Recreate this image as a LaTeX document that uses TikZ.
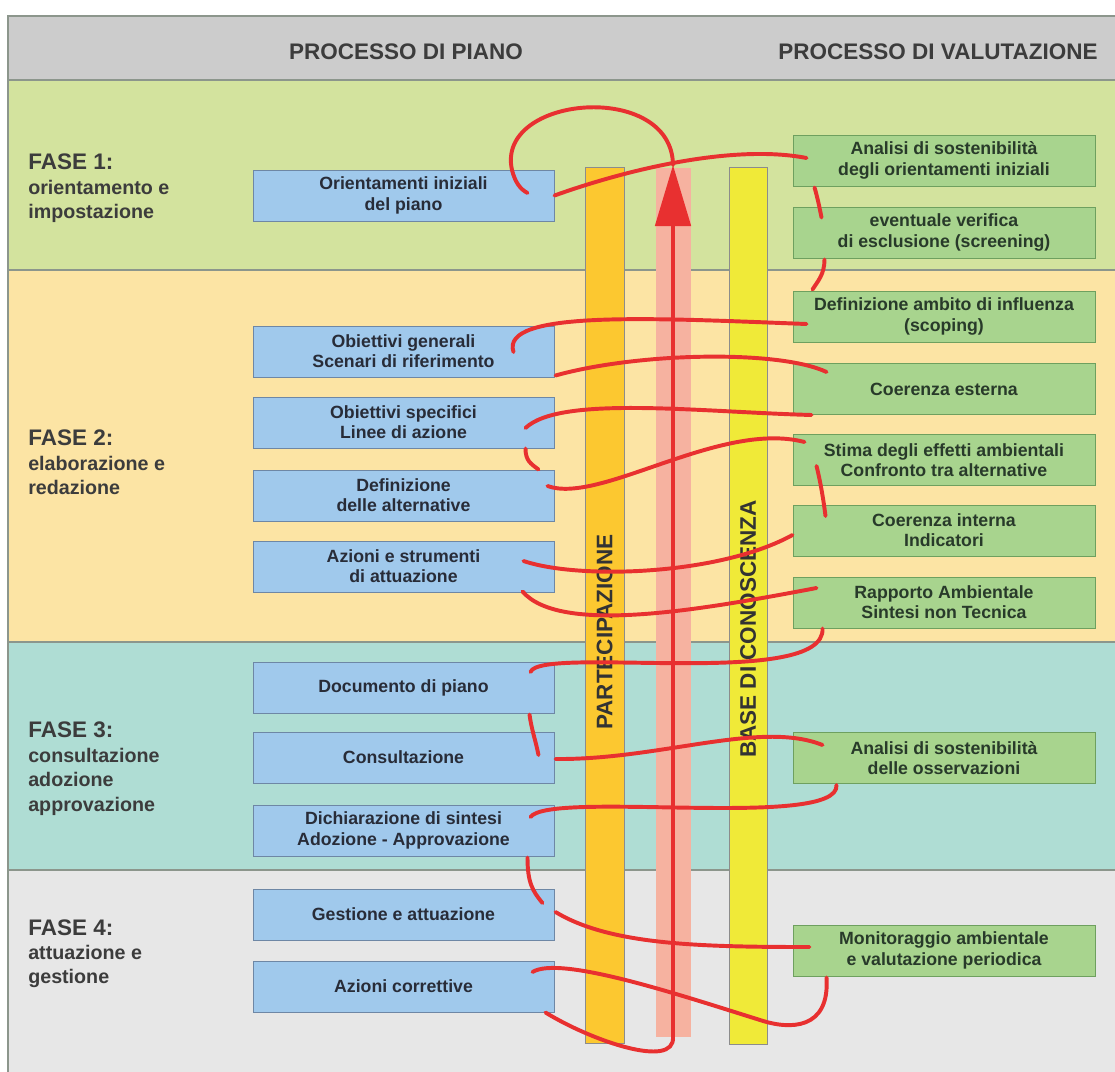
\documentclass[tikz,border=0pt]{standalone}
\usepackage{fontspec}
\setmainfont{Liberation Sans}
\usepackage{tikz}
\usetikzlibrary{arrows.meta,calc}
\definecolor{headgray}{RGB}{204,204,204}
\definecolor{fase1}{RGB}{211,227,158}
\definecolor{fase2}{RGB}{252,228,164}
\definecolor{fase3}{RGB}{175,221,212}
\definecolor{fase4}{RGB}{231,231,231}
\definecolor{sepline}{RGB}{140,150,140}
\definecolor{planblue}{RGB}{160,201,236}
\definecolor{planborder}{RGB}{110,135,165}
\definecolor{plantext}{RGB}{40,44,56}
\definecolor{valgreen}{RGB}{168,212,142}
\definecolor{valborder}{RGB}{110,160,95}
\definecolor{valtext}{RGB}{40,58,42}
\definecolor{partorange}{RGB}{252,200,48}
\definecolor{basyellow}{RGB}{240,234,56}
\definecolor{arrowpink}{RGB}{246,178,160}
\definecolor{linkred}{RGB}{232,48,48}
\definecolor{inktext}{RGB}{60,60,60}

\begin{document}
\begin{tikzpicture}
[x=0.25mm, y=-0.25mm,
 phaseband/.style={draw=sepline,line width=0.9pt},
 plan/.style={rectangle,draw=planborder,fill=planblue,line width=0.7pt,inner sep=0pt,
   minimum width=75.25mm,minimum height=12.75mm,align=center,text=plantext,
   font=\bfseries\fontsize{12.6}{14.4}\selectfont},
 valut/.style={rectangle,draw=valborder,fill=valgreen,line width=0.7pt,inner sep=0pt,
   minimum width=75.5mm,minimum height=12.75mm,align=center,text=valtext,
   font=\bfseries\fontsize{12.6}{14.4}\selectfont},
 phase/.style={anchor=north west,inner sep=0pt,align=left,text=inktext,
   font=\bfseries\fontsize{14}{17.4}\selectfont},
 headtext/.style={text=inktext,font=\bfseries\fontsize{16}{18}\selectfont},
 stripe/.style={draw=black!45,line width=0.5pt},
 stripetext/.style={rotate=90,text=black!80,font=\bfseries\fontsize{16}{18}\selectfont},
 link/.style={draw=linkred,line width=2.8pt,line cap=round}]
\useasboundingbox (0,0) rectangle (1115,1071);
\fill[white] (0,0) rectangle (1115,1071);

\filldraw[phaseband,fill=headgray] (8,16) rectangle (1120,80);
\filldraw[phaseband,fill=fase1] (8,80) rectangle (1120,270);
\filldraw[phaseband,fill=fase2] (8,270) rectangle (1120,642);
\filldraw[phaseband,fill=fase3] (8,642) rectangle (1120,870);
\filldraw[phaseband,fill=fase4] (8,870) rectangle (1120,1080);

\node[headtext] (hpiano) at (406,52) {PROCESSO DI PIANO};
\node[headtext] (hvalut) at (938,52) {PROCESSO DI VALUTAZIONE};

\node[phase] (fase1) at (28,154) {{\fontsize{16}{17.4}\selectfont FASE 1:}\\orientamento e\\impostazione};
\node[phase] (fase2) at (28,430) {{\fontsize{16}{17.4}\selectfont FASE 2:}\\elaborazione e\\redazione};
\node[phase] (fase3) at (28,722) {{\fontsize{16}{17.4}\selectfont FASE 3:}\\consultazione\\adozione\\approvazione};
\node[phase] (fase4) at (28,919) {{\fontsize{16}{17.4}\selectfont FASE 4:}\\attuazione e\\gestione};

\filldraw[stripe,fill=partorange] (585,167) rectangle (624,1043);
\fill[arrowpink] (656,168) rectangle (691,1037);
\filldraw[stripe,fill=basyellow] (729,167) rectangle (767,1044);
\node[stripetext] (partec) at (604.5,632) {PARTECIPAZIONE};
\node[stripetext] (base) at (748,629) {BASE DI CONOSCENZA};

\node[plan] (orient)   at (403.5,195.5) {Orientamenti iniziali\\del piano};
\node[plan] (obgen)    at (403.5,351.5) {Obiettivi generali\\Scenari di riferimento};
\node[plan] (obspec)   at (403.5,422.5) {Obiettivi specifici\\Linee di azione};
\node[plan] (altern)   at (403.5,495.5) {Definizione\\delle alternative};
\node[plan] (azioni)   at (403.5,566.5) {Azioni e strumenti\\di attuazione};
\node[plan] (docum)    at (403.5,687.5) {Documento di piano};
\node[plan] (consult)  at (403.5,757.5) {Consultazione};
\node[plan] (dichiar)  at (403.5,830.5) {Dichiarazione di sintesi\\Adozione - Approvazione};
\node[plan] (gestione) at (403.5,914.5) {Gestione e attuazione};
\node[plan] (corrett)  at (403.5,986.5) {Azioni correttive};

\node[valut] (ansost)   at (944,160.5) {Analisi di sostenibilità\\degli orientamenti iniziali};
\node[valut] (screen)   at (944,232.5) {eventuale verifica\\di esclusione (screening)};
\node[valut] (scoping)  at (944,316.5) {Definizione ambito di influenza\\(scoping)};
\node[valut] (coerest)  at (944,389)   {Coerenza esterna};
\node[valut] (stima)    at (944,460)   {Stima degli effetti ambientali\\Confronto tra alternative};
\node[valut] (coerint)  at (944,530.5) {Coerenza interna\\Indicatori};
\node[valut] (rapporto) at (944,602.5) {Rapporto Ambientale\\Sintesi non Tecnica};
\node[valut] (ansoss)   at (944,758)   {Analisi di sostenibilità\\delle osservazioni};
\node[valut] (monit)    at (944,950.5) {Monitoraggio ambientale\\e valutazione periodica};

\coordinate (tip)  at (673,165);
\coordinate (foot) at (673,1037);

\draw[link]
  (tip) .. controls (672,80) and (495,95) .. (512,170) .. controls (515,182) and (520,189) .. ($(orient.east)+(-27,-2.5)$)
  (orient.east) .. controls (640,165) and (740,145) .. ($(ansost.west)+(14,-2.5)$)
  ($(ansost.south west)+(22,1)$) .. controls +(3,10) and +(-2,-10) .. ($(screen.north west)+(29,11)$)
  ($(screen.south west)+(32,1)$) .. controls +(0,15) and +(5,-8) .. ($(scoping.north west)+(20,-1)$)
  ($(scoping.west)+(14,7.5)$) .. controls (650,318) and (500,310) .. ($(obgen.east)+(-41,0.5)$)
  ($(obgen.south east)+(1,-2)$) .. controls (640,352) and (780,350) .. ($(coerest.west)+(34,-17)$)
  ($(coerest.south west)+(19,0)$) .. controls (700,412) and (560,395) .. ($(obspec.east)+(-29,5.5)$)
  ($(obspec.south east)+(-29,0)$) .. controls +(0,12) and +(-8,-6) .. ($(altern.north east)+(-16,0)$)
  ($(altern.east)+(-7,-9.5)$) .. controls (600,505) and (720,420) .. ($(stima.west)+(12,-18)$)
  ($(stima.west)+(24,6)$) .. controls +(4,16) and +(-2,-16) .. ($(coerint.west)+(33,-14.5)$)
  ($(coerint.west)+(0,4.5)$) .. controls (720,575) and (580,580) .. ($(azioni.east)+(-31,-5.5)$)
  ($(azioni.south east)+(-32,-1)$) .. controls (560,635) and (700,610) .. ($(rapporto.west)+(24,-14.5)$)
  ($(rapporto.south west)+(30,0)$) .. controls (826,690) and (540,645) .. ($(docum.east)+(-24,-15.5)$)
  ($(docum.south east)+(-25,1)$) .. controls +(2,15) and +(-3,-15) .. ($(consult.east)+(-16,-2.5)$)
  ($(consult.east)+(1,1.5)$) .. controls (660,760) and (760,720) .. ($(ansoss.west)+(30,-13)$)
  ($(ansoss.south west)+(44,1)$) .. controls (840,830) and (550,790) .. ($(dichiar.east)+(-24,-13.5)$)
  ($(dichiar.south east)+(-27,1)$) .. controls +(0,25) and +(-10,-12) .. ($(gestione.east)+(-12,-11.5)$)
  ($(gestione.east)+(1,-2.5)$) .. controls (610,945) and (700,947) .. ($(monit.west)+(17,-3.5)$)
  ($(monit.south west)+(34,1)$) .. controls (830,1030) and (790,1030) .. (760,1020)
     .. controls (680,995) and (560,955) .. ($(corrett.east)+(-22,-14.5)$)
  ($(corrett.south east)+(-9,0)$) .. controls (590,1040) and (675,1070) .. (foot);
\draw[link,line width=3.5pt,-{Triangle[length=15.25mm,width=8.75mm]}] (foot) -- (tip);
\end{tikzpicture}
\end{document}
